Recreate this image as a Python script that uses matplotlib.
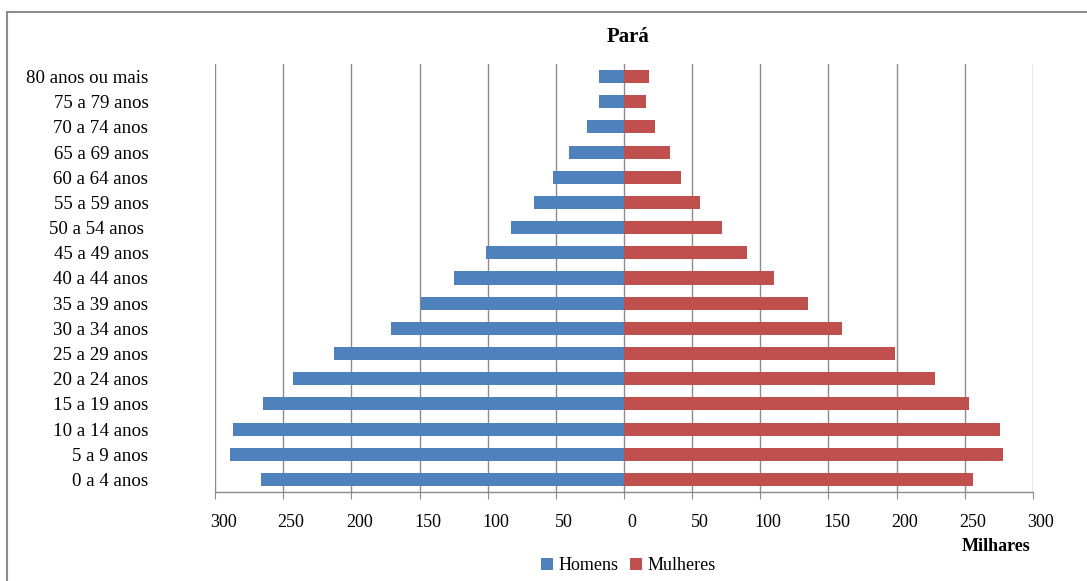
import numpy as np
import matplotlib
matplotlib.use("Agg")
import matplotlib.pyplot as plt
from matplotlib.patches import Rectangle
from matplotlib.transforms import ScaledTranslation

plt.rcParams["font.family"] = ["Liberation Serif", "DejaVu Serif"]

# age groups, bottom to top
age_groups = [
    "0 a 4 anos", "5 a 9 anos", "10 a 14 anos", "15 a 19 anos", "20 a 24 anos",
    "25 a 29 anos", "30 a 34 anos", "35 a 39 anos", "40 a 44 anos", "45 a 49 anos",
    "50 a 54 anos ", "55 a 59 anos", "60 a 64 anos", "65 a 69 anos", "70 a 74 anos",
    "75 a 79 anos", "80 anos ou mais",
]
# thousands of people
homens = [266, 289, 287, 265, 243, 213, 171, 149, 125, 101, 83, 66, 52, 40, 27, 18, 18]
mulheres = [256, 278, 276, 253, 228, 199, 160, 135, 110, 90, 72, 56, 42, 34, 23, 16, 18]

x_ticks = np.arange(-300, 301, 50)
x_tick_labels = [str(abs(v)) for v in x_ticks]

BLUE = "#4F81BD"
RED = "#C0504D"
GRID = "#8C8C8C"

fig = plt.figure(figsize=(10.87, 5.81), dpi=100)
ax = fig.add_axes([0.1978, 0.1532, 0.7525, 0.7367])

y = np.arange(len(age_groups))
ax.barh(y, -np.array(homens), height=0.52, color=BLUE, label="Homens", zorder=3)
ax.barh(y, mulheres, height=0.52, color=RED, label="Mulheres", zorder=3)

ax.set_xlim(-300, 300)
ax.set_ylim(-0.5, len(age_groups) - 0.5)
ax.set_xticks(x_ticks)
ax.set_xticklabels(x_tick_labels, fontsize=13)
ax.set_yticks(y)
ax.set_yticklabels(age_groups, fontsize=13.6)

ax.grid(axis="x", color=GRID, linewidth=1.0, zorder=0)
for s in ("top", "right", "left"):
    ax.spines[s].set_visible(False)
ax.spines["bottom"].set_color(GRID)
ax.spines["bottom"].set_linewidth(1.0)
ax.tick_params(axis="x", direction="out", length=5, color=GRID, pad=11)
ax.tick_params(axis="y", length=0, pad=48)

# excel puts the numbers a little right of the ticks
offset = ScaledTranslation(0.08, 0, fig.dpi_scale_trans)
for lbl in ax.get_xticklabels():
    lbl.set_transform(lbl.get_transform() + offset)

fig.text(0.578, 0.936, "Pará", ha="center", va="center", fontsize=15, fontweight="bold")
fig.text(0.948, 0.059, "Milhares", ha="right", va="center", fontsize=13, fontweight="bold")

ax.legend(loc="center", bbox_to_anchor=(0.578, 0.026), bbox_transform=fig.transFigure,
          ncol=2, frameon=False, fontsize=13, handlelength=0.7, handleheight=0.7,
          handletextpad=0.3, columnspacing=0.6, borderaxespad=0)

# chart border (cut off right and bottom in the original)
fig.patches.append(Rectangle((0.0064, -0.05), 1.1, 0.979 + 0.05, transform=fig.transFigure,
                             fill=False, edgecolor="#8C8C8C", linewidth=1.5))

fig.savefig("out.png", dpi=100)
